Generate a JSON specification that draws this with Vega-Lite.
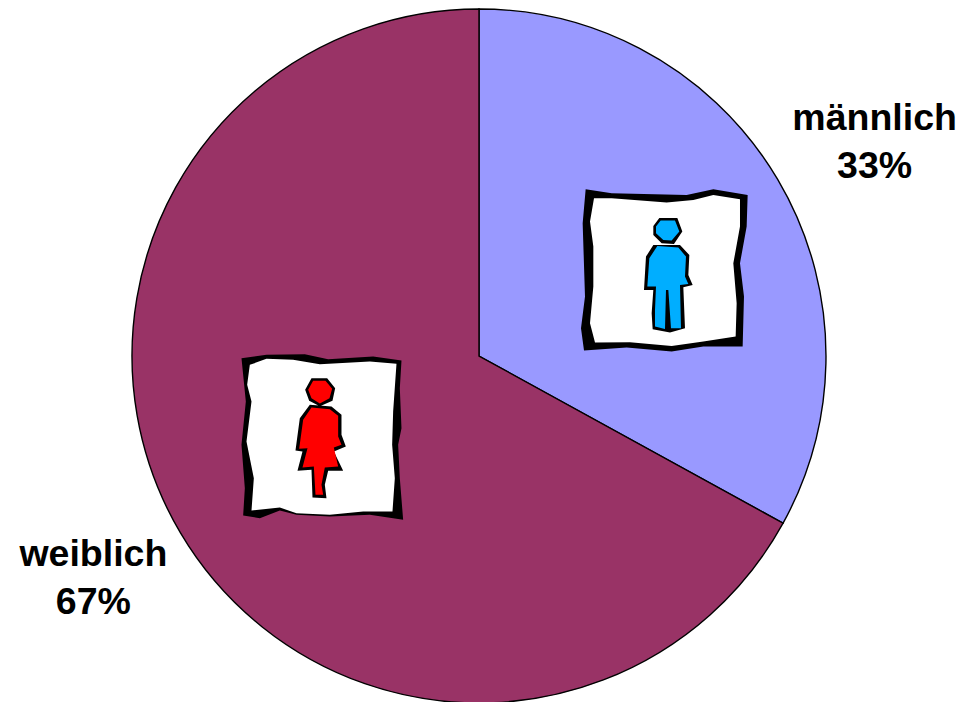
{
"$schema":"https://vega.github.io/schema/vega-lite/v6.json",
"width":958,"height":692,
"padding":{"left":0,"top":10,"right":7,"bottom":0},
"autosize":{"type":"none"},
"background":"white",
"config":{"view":{"stroke":null}},
"datasets":{
"slices":[
{"group":"männlich","share":33,"label":"männlich\n33%"},
{"group":"weiblich","share":67,"label":"weiblich\n67%"}],
"maleIcon":[{"part":"male-border"},{"part":"male-paper"},{"part":"male-outline"},{"part":"male-figure"}],
"femaleIcon":[{"part":"female-border"},{"part":"female-paper"},{"part":"female-outline"},{"part":"female-figure"}]
},
"layer":[
{"data":{"name":"slices"},
 "mark":{"type":"arc","outerRadius":347,"stroke":"#000000","strokeWidth":1.4},
 "encoding":{
  "theta":{"field":"share","type":"quantitative","stack":true,"scale":{"domain":[0,100]}},
  "order":{"field":"share","type":"quantitative"},
  "color":{"field":"group","type":"nominal","legend":null,"scale":{"domain":["männlich","weiblich"],"range":["#9999FF","#993366"]}}
 }},
{"data":{"name":"maleIcon"},
 "mark":{"type":"point","filled":true,"opacity":1,"strokeWidth":0,"size":0.4444},
 "encoding":{
  "x":{"datum":0.536,"type":"quantitative","axis":null,"scale":{"domain":[-1.3804,1.3804],"nice":false,"zero":false}},
  "y":{"datum":0.248,"type":"quantitative","axis":null,"scale":{"domain":[-0.9971,0.9971],"nice":false,"zero":false}},
  "shape":{"field":"part","type":"nominal","legend":null,"scale":{
   "domain":["male-border","male-paper","male-outline","male-figure","female-border","female-paper","female-outline","female-figure"],
   "range":[
   "M-238,-242L-160,-230L65,-225L145,-242L248,-225L245,-130L225,-20L237,80L233,230L115,230L20,245L-115,233L-243,242L-252,175L-240,80L-247,-140Z",
   "M-213,-215L-160,-215L5,-202L85,-210L145,-225L225,-212L225,-130L205,-20L215,100L212,200L115,215L20,228L-105,217L-210,218L-225,160L-215,50L-215,-70L-225,-145Z",
   "M-17,-156L37,-156L52,-115L27,-78L-10,-80L-35,-105L-35,-132ZM-35,-75L45,-75L73,-45L70,15L83,45L55,52L60,175L15,188L-37,178L-40,130L-35,60L-63,60L-57,-40Z",
   "M-13,-148L30,-148L43,-115L20,-88L-5,-90L-27,-110L-27,-130ZM-23,-72L40,-67L63,-40L60,20L70,42L45,45L48,175L18,175L10,60L3,60L0,177L-30,170L-30,120L-27,50L-53,50L-47,-35Z",
   "M-242,-237L-167,-247L-52,-249L18,-234L153,-242L238,-230L233,-147L238,-27L228,23L233,123L243,248L143,233L23,238L-77,233L-127,220L-187,243L-237,235L-232,153L-242,23L-229,-107Z",
   "M-217,-217L-167,-235L-87,-232L-7,-219L143,-227L223,-220L213,-77L210,23L218,123L211,223L123,223L23,233L-77,228L-127,211L-212,220L-205,123L-227,13L-212,-107L-225,-157Z",
   "M-32,-177L15,-177L39,-147L31,-109L-7,-93L-39,-109L-51,-142ZM-37,-97L28,-92L58,-67L58,-7L71,28L35,43L63,101L18,101L8,143L13,183L-29,181L-32,98L-74,101L-59,43L-80,40L-67,-57Z",
   "M-27,-169L10,-169L30,-145L22,-117L-7,-101L-32,-117L-42,-142ZM-32,-89L23,-84L48,-64L48,-2L58,23L35,31L48,88L8,91L-2,143L3,173L-20,173L-25,88L-59,91L-44,33L-69,35L-57,-52Z"
   ]}},
  "fill":{"field":"part","type":"nominal","legend":null,"scale":{
   "domain":["male-border","male-paper","male-outline","male-figure","female-border","female-paper","female-outline","female-figure"],
   "range":["#000000","#FFFFFF","#000000","#00AEFF","#000000","#FFFFFF","#000000","#FF0000"]}}
 }},
{"data":{"name":"femaleIcon"},
 "mark":{"type":"point","filled":true,"opacity":1,"strokeWidth":0,"size":0.4444},
 "encoding":{
  "x":{"datum":-0.452,"type":"quantitative"},
  "y":{"datum":-0.234,"type":"quantitative"},
  "shape":{"field":"part","type":"nominal","legend":null},
  "fill":{"field":"part","type":"nominal","legend":null}
 }},
{"data":{"name":"slices"},
 "transform":[{"filter":"datum.group === 'männlich'"}],
 "mark":{"type":"text","radius":448,"dx":10,"dy":-9,"font":"Liberation Sans","fontWeight":"bold","fontSize":37.5,"lineHeight":48,"lineBreak":"\n","align":"center","baseline":"middle","color":"#000000"},
 "encoding":{
  "theta":{"datum":16.5,"type":"quantitative"},
  "text":{"field":"label","type":"nominal"}
 }},
{"data":{"name":"slices"},
 "transform":[{"filter":"datum.group === 'weiblich'"}],
 "mark":{"type":"text","radius":448,"dx":0,"dy":-29,"font":"Liberation Sans","fontWeight":"bold","fontSize":37.5,"lineHeight":48,"lineBreak":"\n","align":"center","baseline":"middle","color":"#000000"},
 "encoding":{
  "theta":{"datum":66.5,"type":"quantitative"},
  "text":{"field":"label","type":"nominal"}
 }}
]
}
